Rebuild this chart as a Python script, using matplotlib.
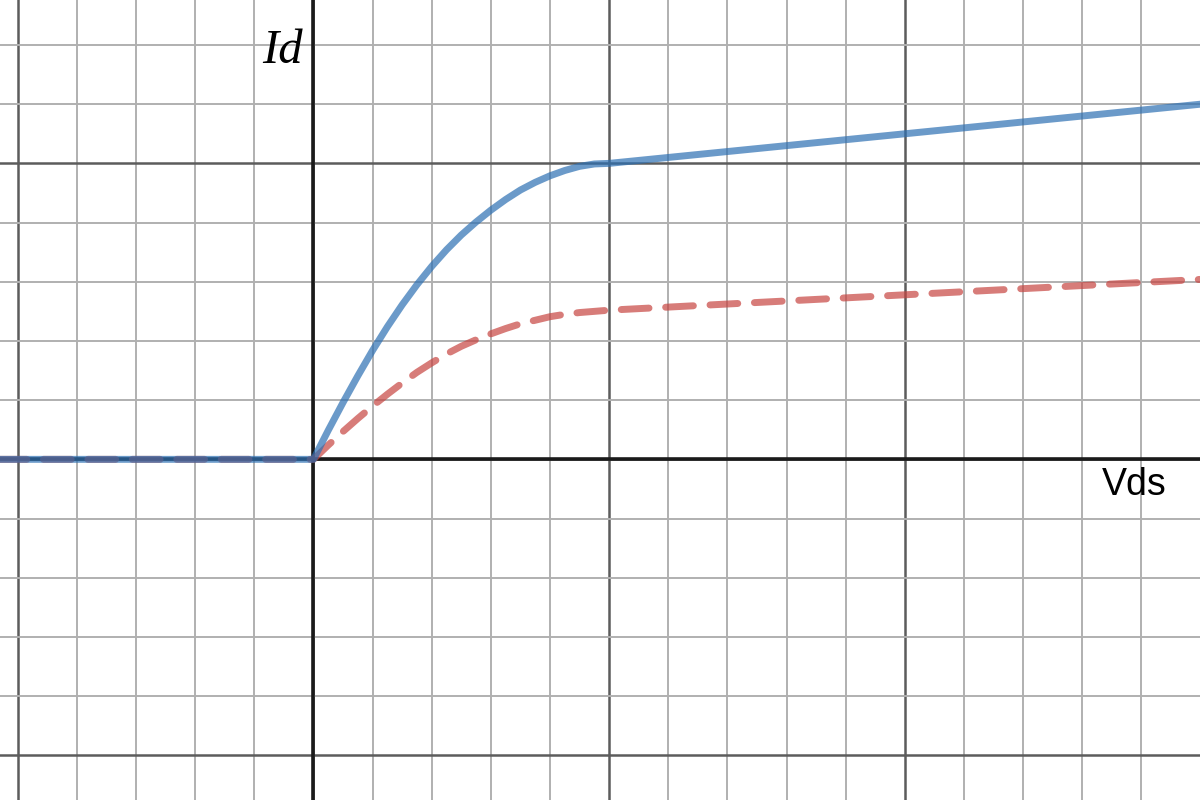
import matplotlib
matplotlib.use("Agg")
import matplotlib.pyplot as plt
from matplotlib.ticker import MultipleLocator

# Data
vds_blue = [-5.4, 0, 0.25, 0.5, 0.75, 1, 1.25, 1.5, 1.75, 2, 2.25, 2.5, 2.75, 3,
            3.25, 3.5, 3.75, 4, 4.25, 4.5, 4.75, 5, 15.1]
id_blue = [0, 0, 0.49, 0.96, 1.41, 1.84, 2.24, 2.61, 2.95, 3.26, 3.54, 3.79, 4.01, 4.21,
           4.39, 4.55, 4.68, 4.79, 4.88, 4.95, 4.99, 5.0, 6.01]

vds_red = [-5.4, 0, 0.25, 0.5, 0.75, 1, 1.25, 1.5, 1.75, 2, 2.25, 2.5, 2.75, 3,
           3.25, 3.5, 3.75, 4, 4.25, 4.5, 4.75, 5, 15.1]
id_red = [0, 0, 0.24, 0.47, 0.69, 0.90, 1.10, 1.29, 1.47, 1.63, 1.78, 1.91, 2.02, 2.12,
          2.21, 2.29, 2.35, 2.41, 2.45, 2.48, 2.50, 2.52, 3.045]

x_label = "Vds"
y_label = "Id"

fig = plt.figure(figsize=(12, 8), dpi=100)
ax = fig.add_axes([0, 0, 1, 1])
ax.set_xlim(-5.30, 14.99)
ax.set_ylim(-5.755, 7.76)

ax.xaxis.set_major_locator(MultipleLocator(5))
ax.xaxis.set_minor_locator(MultipleLocator(1))
ax.yaxis.set_major_locator(MultipleLocator(5))
ax.yaxis.set_minor_locator(MultipleLocator(1))
ax.grid(which="minor", color="#b0b0b0", linewidth=1.4, zorder=0)
ax.grid(which="major", color="#5c5c5c", linewidth=1.8, zorder=0)
ax.set_axisbelow(True)
ax.tick_params(which="both", length=0, labelbottom=False, labelleft=False)
for s in ax.spines.values():
    s.set_visible(False)

ax.axhline(0, color="#1a1a1a", linewidth=2.6, zorder=1)
ax.axvline(0, color="#1a1a1a", linewidth=2.6, zorder=1)

ax.plot(vds_red, id_red, color="#c74440", alpha=0.7, linewidth=5,
        linestyle=(0, (4.0, 2.4)), dash_capstyle="round", zorder=3)
ax.plot(vds_blue, id_blue, color="#2d70b3", alpha=0.7, linewidth=5,
        solid_capstyle="round", solid_joinstyle="round", zorder=4)

ax.text(-0.18, 6.69, y_label, family="Liberation Serif", style="italic",
        fontsize=35, ha="right", va="baseline", zorder=5)
ax.text(14.43, -0.60, x_label, family="Liberation Sans",
        fontsize=27, ha="right", va="baseline", zorder=5)

fig.savefig("out.png", dpi=100)
